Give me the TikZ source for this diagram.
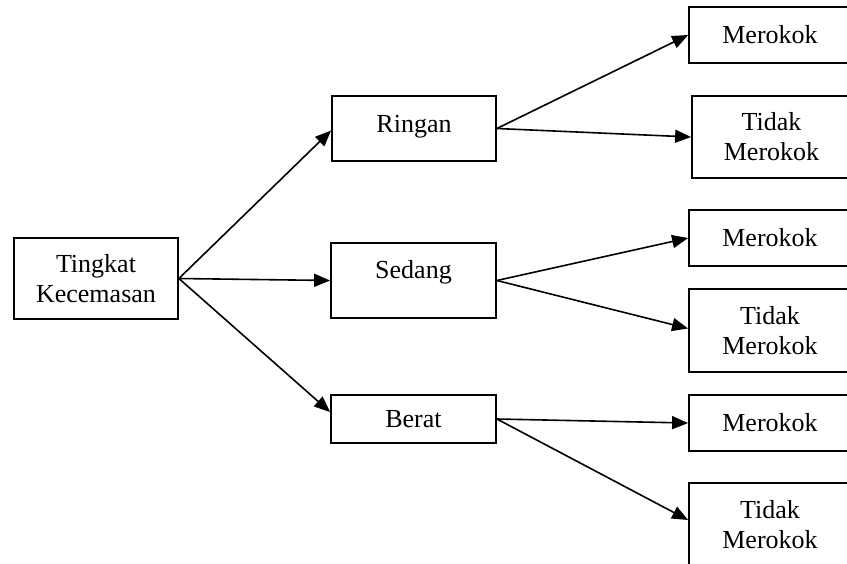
\documentclass[tikz,border=0pt]{standalone}
\usepackage{fontspec}
\setmainfont{Liberation Serif}
\usetikzlibrary{arrows.meta}
\begin{document}
\begin{tikzpicture}[x=1pt,y=-1pt,
  box/.style={draw,line width=1.8pt,rectangle,inner sep=0pt,align=center,
    font=\fontsize{26}{30}\selectfont},
  conn/.style={line width=1.6pt,-{Triangle[length=16pt,width=13pt]}}]
\clip (0,0) rectangle (847,563);
\fill[white] (0,0) rectangle (847,563);
% left
\node[box,minimum width=164,minimum height=81] (A) at (96,278.5) {Tingkat\\Kecemasan};
% middle
\node[box,minimum width=164,minimum height=65,text height=18pt,text depth=11pt] (R) at (414,128.5) {Ringan};
\node[box,minimum width=165,minimum height=75,text height=18pt,text depth=23pt] (S) at (413.5,280.5) {Sedang};
\node[box,minimum width=165,minimum height=48] (B) at (413.5,419) {Berat};
% right
\node[box,minimum width=162,minimum height=56] (M1) at (770,35) {Merokok};
\node[box,minimum width=159,minimum height=82] (T1) at (771.5,137) {Tidak\\Merokok};
\node[box,minimum width=162,minimum height=56] (M2) at (770,238) {Merokok};
\node[box,minimum width=162,minimum height=83] (T2) at (770,330.5) {Tidak\\Merokok};
\node[box,minimum width=162,minimum height=56] (M3) at (770,423) {Merokok};
\node[box,minimum width=162,minimum height=84] (T3) at (770,525) {Tidak\\Merokok};
% connectors
\draw[conn] (A.east) -- ([yshift=-2pt]R.west);
\draw[conn] (A.east) -- (S.west);
\draw[conn] (A.east) -- ([yshift=7pt]B.west);
\draw[conn] (R.east) -- (M1.west);
\draw[conn] (R.east) -- (T1.west);
\draw[conn] (S.east) -- (M2.west);
\draw[conn] (S.east) -- ([yshift=2pt]T2.west);
\draw[conn] (B.east) -- (M3.west);
\draw[conn] (B.east) -- ([yshift=5pt]T3.west);
\end{tikzpicture}
\end{document}
